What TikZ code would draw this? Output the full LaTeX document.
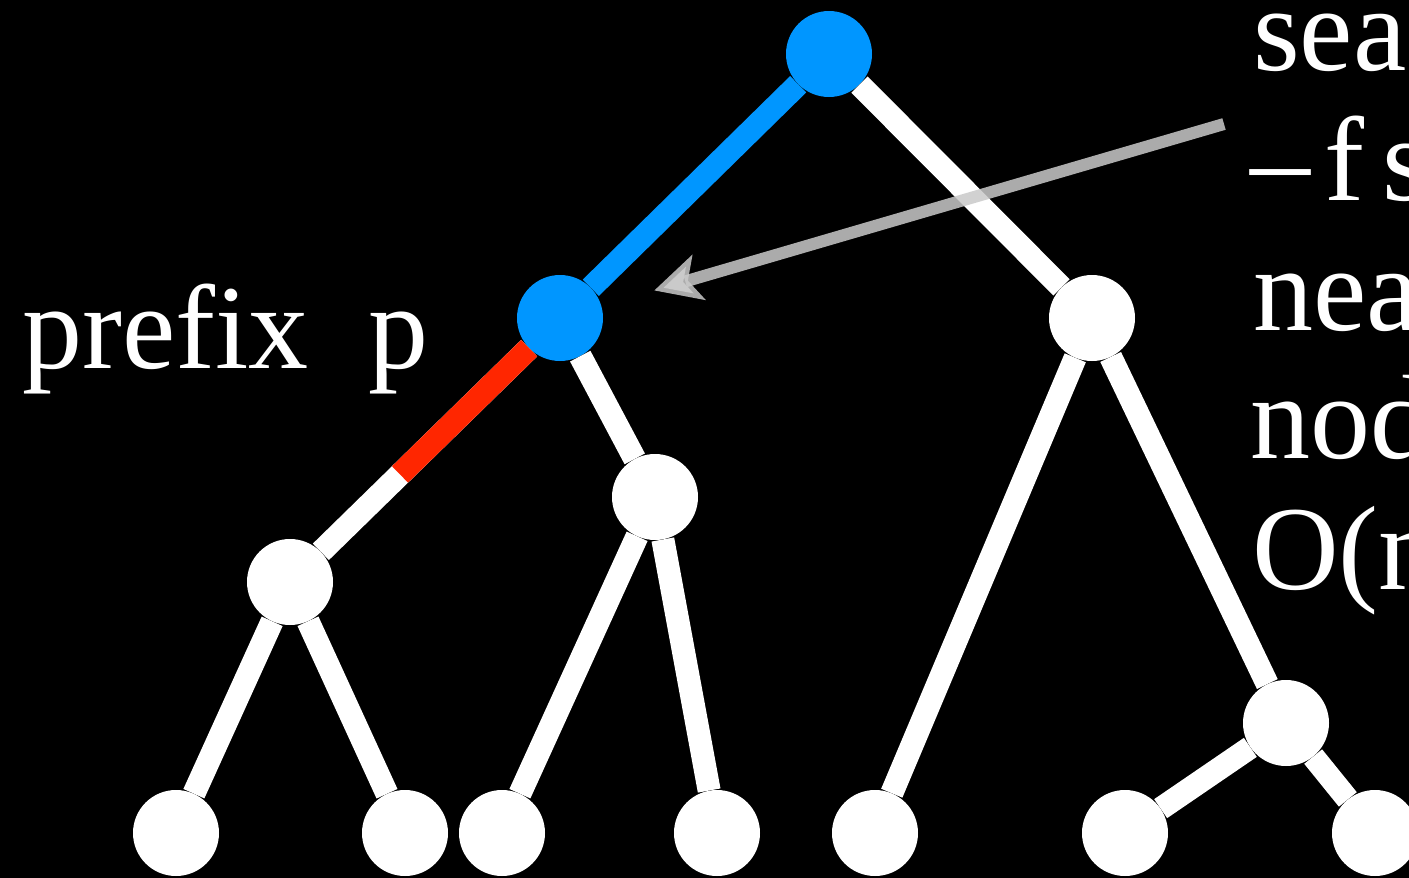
\documentclass[tikz,border=0pt]{standalone}
\usepackage{fontspec}
\setmainfont{Liberation Serif}
\usetikzlibrary{arrows.meta}

\definecolor{trieblue}{RGB}{0,150,255}
\definecolor{triered}{RGB}{255,38,0}
\definecolor{pointergray}{RGB}{202,202,202}

\tikzset{
    vertex/.style={circle, fill=white, minimum size=86pt, inner sep=0pt},
    hit/.style={vertex, fill=trieblue},
    branch/.style={draw=white, line width=23pt},
    pointer/.style={draw=pointergray, draw opacity=0.85, line width=12pt,
        -{Stealth[length=46pt, width=46pt, inset=11pt, fill=pointergray]}},
    words/.style={text=white, inner sep=0pt, anchor=base west,
        font=\fontsize{120}{130}\selectfont}
}

\begin{document}
\begin{tikzpicture}[x=1pt, y=-1pt]
        % Background
        \fill[black] (0, 0) rectangle (1409, 878);
        \clip (0, 0) rectangle (1409, 878);

        % The nodes of the trie
        \node[hit] (root) at (829, 54) {};
        \node[hit] (p) at (560, 318) {};
        \node[vertex] (r) at (1092, 318) {};
        \node[vertex] (pl) at (290, 582) {};
        \node[vertex] (pr) at (655, 497) {};
        \node[vertex] (rr) at (1286, 723) {};
        \node[vertex] (a) at (176, 833) {};
        \node[vertex] (b) at (405, 833) {};
        \node[vertex] (c) at (502, 833) {};
        \node[vertex] (d) at (717, 833) {};
        \node[vertex] (e) at (875, 833) {};
        \node[vertex] (f) at (1125, 833) {};
        \node[vertex] (g) at (1375, 833) {};

        % The edges
        \draw[branch, draw=trieblue] (root) -- (p);
        \draw[branch] (root) -- (r);
        \draw[branch] (p) -- (pl) coordinate[pos=0.62] (cut);
        \draw[branch] (p) -- (pr);
        \draw[branch] (pl) -- (a);
        \draw[branch] (pl) -- (b);
        \draw[branch] (pr) -- (c);
        \draw[branch] (pr) -- (d);
        \draw[branch] (r) -- (e);
        \draw[branch] (r) -- (rr);
        \draw[branch] (rr) -- (f);
        \draw[branch] (rr) -- (g);

        % The part of the prefix below p
        \draw[branch, draw=triered] (p) -- (cut);

        % The labels
        \node[words] (prefix) at (22, 368) {prefix\ \ p};
        \node[words] (l1) at (1253, 70) {sea};
        \node[words] (l2) at (1250, 200) {\makebox[50pt][s]{–}\hspace{24pt}f\hspace{18pt}s};
        \node[words] (l3) at (1253, 330) {near};
        \node[words] (l4) at (1250, 458) {nod};
        \node[words] (l5) at (1252, 589) {O(n};

        % The arrow towards p
        \coordinate (tail) at (1224, 124);
        \draw[pointer, shorten >=55pt] (tail) -- (p);
    \end{tikzpicture}
\end{document}
